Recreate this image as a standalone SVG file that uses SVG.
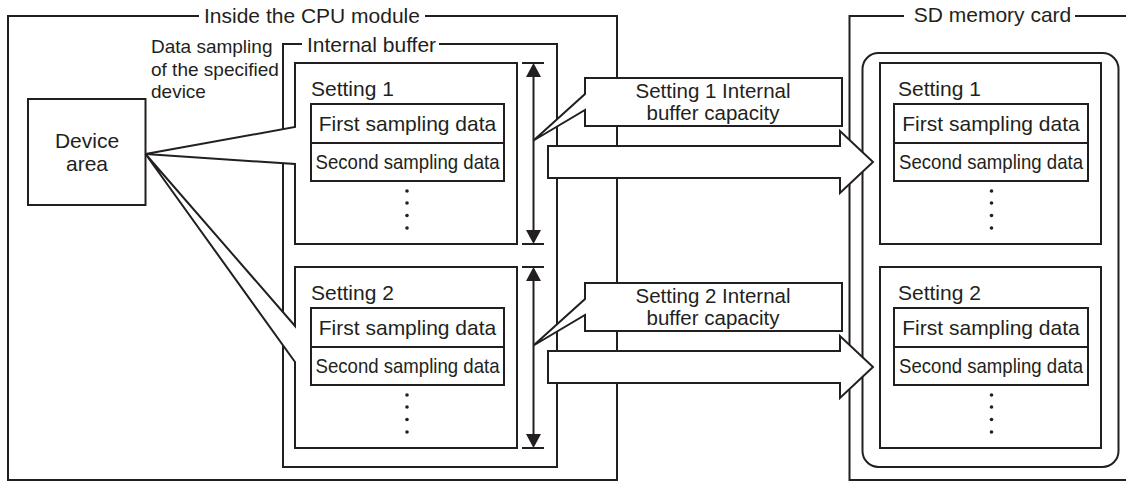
<svg xmlns="http://www.w3.org/2000/svg" width="1126" height="482" viewBox="0 0 1126 482">
<style>
.ln{fill:none;stroke:#231f20;stroke-width:2}
.bx{fill:#fff;stroke:#231f20;stroke-width:2}
.t{font-family:"Liberation Sans",Arial,sans-serif;font-size:21px;fill:#231f20}
.m{text-anchor:middle}
.ct{font-size:20.5px}
.dot{fill:#231f20}
.ah{fill:#231f20}
</style>
<rect width="1126" height="482" fill="#fff"/>

<g id="cpu-module">
  <path class="ln" d="M199,16 L8,16 L8,480 L617,480 L617,16 L425,16"/>
  <text class="t m" x="312" y="23">Inside the CPU module</text>
</g>

<g id="internal-buffer">
  <path class="ln" d="M302,44 L283,44 L283,467 L557,467 L557,44 L439,44"/>
  <text class="t m" x="371.5" y="52">Internal buffer</text>
</g>

<g id="device-area">
  <rect class="bx" x="28" y="99" width="117.5" height="106"/>
  <text class="t m" x="87" y="148">Device</text>
  <text class="t m" x="87" y="171">area</text>
</g>

<g id="sampling-label">
  <text class="t" style="font-size:19px" x="151" y="53">Data sampling</text>
  <text class="t" style="font-size:19px" x="151" y="75.5">of the specified</text>
  <text class="t" style="font-size:19px" x="151" y="98">device</text>
</g>

<g id="cpu-setting1">
  <path class="bx" d="M295,127 L295,63 L517,63 L517,244 L295,244 L295,164 L145.5,154 Z"/>
  <text class="t" x="311" y="96">Setting 1</text>
  <rect class="bx" x="311" y="104" width="193" height="77"/>
  <line class="ln" x1="311" y1="143" x2="504" y2="143"/>
  <text class="t m" x="407.5" y="131">First sampling data</text>
  <text class="t m" x="407.5" y="169" textLength="184" lengthAdjust="spacingAndGlyphs">Second sampling data</text>
  <circle class="dot" cx="407" cy="191" r="1.8"/>
  <circle class="dot" cx="407" cy="203" r="1.8"/>
  <circle class="dot" cx="407" cy="215.5" r="1.8"/>
  <circle class="dot" cx="407" cy="228" r="1.8"/>
</g>

<g id="cpu-setting2">
  <path class="bx" d="M295,326 L295,267 L517,267 L517,448 L295,448 L295,362 L145.5,154 Z"/>
  <text class="t" x="311" y="300">Setting 2</text>
  <rect class="bx" x="311" y="308" width="193" height="77"/>
  <line class="ln" x1="311" y1="347" x2="504" y2="347"/>
  <text class="t m" x="407.5" y="335">First sampling data</text>
  <text class="t m" x="407.5" y="373" textLength="184" lengthAdjust="spacingAndGlyphs">Second sampling data</text>
  <circle class="dot" cx="407" cy="395" r="1.8"/>
  <circle class="dot" cx="407" cy="407" r="1.8"/>
  <circle class="dot" cx="407" cy="419.5" r="1.8"/>
  <circle class="dot" cx="407" cy="432" r="1.8"/>
</g>

<g id="sd-card">
  <path class="ln" d="M904,16 L849.5,16 L849.5,480 L1126,480"/>
  <line class="ln" x1="1075" y1="16" x2="1126" y2="16"/>
  <text class="t m" x="992.5" y="22">SD memory card</text>
  <rect class="bx" x="862.5" y="53" width="256" height="414" rx="16" ry="16"/>
</g>

<g id="sd-setting1">
  <rect class="bx" x="880" y="63" width="221" height="181"/>
  <text class="t" x="898" y="96">Setting 1</text>
  <rect class="bx" x="894" y="104" width="194" height="77"/>
  <line class="ln" x1="894" y1="143" x2="1088" y2="143"/>
  <text class="t m" x="991" y="131">First sampling data</text>
  <text class="t m" x="991" y="169" textLength="184" lengthAdjust="spacingAndGlyphs">Second sampling data</text>
  <circle class="dot" cx="991.5" cy="191" r="1.8"/>
  <circle class="dot" cx="991.5" cy="203" r="1.8"/>
  <circle class="dot" cx="991.5" cy="215.5" r="1.8"/>
  <circle class="dot" cx="991.5" cy="228" r="1.8"/>
</g>

<g id="sd-setting2">
  <rect class="bx" x="880" y="267" width="221" height="181"/>
  <text class="t" x="898" y="300">Setting 2</text>
  <rect class="bx" x="894" y="308" width="194" height="77"/>
  <line class="ln" x1="894" y1="347" x2="1088" y2="347"/>
  <text class="t m" x="991" y="335">First sampling data</text>
  <text class="t m" x="991" y="373" textLength="184" lengthAdjust="spacingAndGlyphs">Second sampling data</text>
  <circle class="dot" cx="991.5" cy="395" r="1.8"/>
  <circle class="dot" cx="991.5" cy="407" r="1.8"/>
  <circle class="dot" cx="991.5" cy="419.5" r="1.8"/>
  <circle class="dot" cx="991.5" cy="432" r="1.8"/>
</g>

<g id="connectors">
  <g id="dim1">
    <line class="ln" x1="522" y1="63" x2="544" y2="63"/>
    <line class="ln" x1="522" y1="244" x2="544" y2="244"/>
    <line class="ln" x1="533.5" y1="70" x2="533.5" y2="237"/>
    <polygon class="ah" points="533.5,63 526,77 541,77"/>
    <polygon class="ah" points="533.5,244 526,230 541,230"/>
  </g>
  <g id="dim2">
    <line class="ln" x1="522" y1="267" x2="544" y2="267"/>
    <line class="ln" x1="522" y1="448" x2="544" y2="448"/>
    <line class="ln" x1="533.5" y1="274" x2="533.5" y2="441"/>
    <polygon class="ah" points="533.5,267 526,281 541,281"/>
    <polygon class="ah" points="533.5,448 526,434 541,434"/>
  </g>
  <g id="callout1">
    <path class="bx" d="M585,78 L842,78 L842,126 L585,126 L585,110 L533.5,140.5 L585,94 Z"/>
    <text class="t m ct" x="713" y="97.5">Setting 1 Internal</text>
    <text class="t m ct" x="713" y="120">buffer capacity</text>
  </g>
  <g id="callout2">
    <path class="bx" d="M585,283 L842,283 L842,331 L585,331 L585,315 L533.5,345.5 L585,299 Z"/>
    <text class="t m ct" x="713" y="302.5">Setting 2 Internal</text>
    <text class="t m ct" x="713" y="325">buffer capacity</text>
  </g>
  <path id="flow1" class="bx" d="M548,146 L840,146 L840,131 L873,162 L840,193 L840,178 L548,178 Z"/>
  <path id="flow2" class="bx" d="M548,351 L840,351 L840,336 L873,367 L840,398 L840,383 L548,383 Z"/>
</g>
</svg>
